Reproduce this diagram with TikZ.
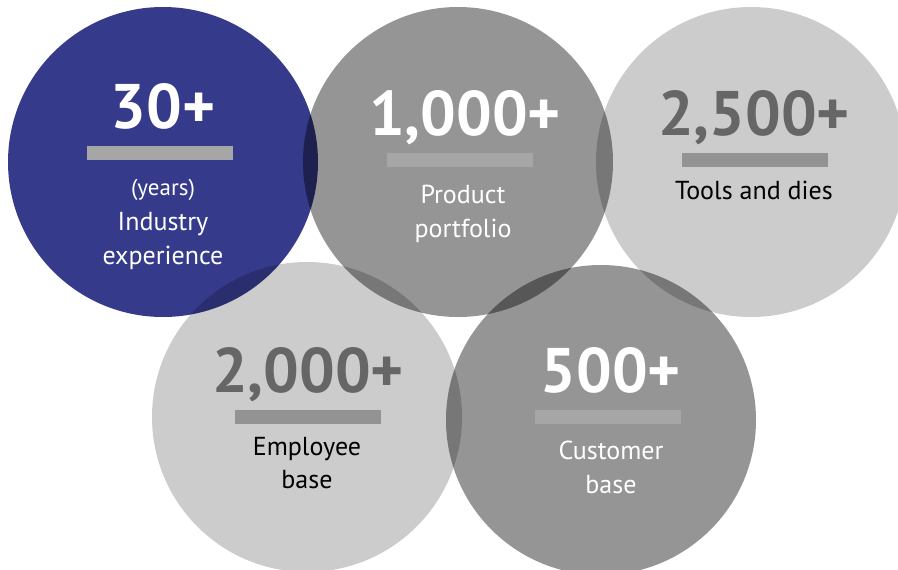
\documentclass[tikz,border=0pt]{standalone}
\usepackage{fontspec}
\setmainfont{PT Sans}
\definecolor{discblue}{RGB}{53,58,138}
\definecolor{discmid}{RGB}{149,149,149}
\definecolor{disclight}{RGB}{204,204,204}
\definecolor{barpale}{RGB}{166,166,166}
\definecolor{bardeep}{RGB}{147,147,147}
\definecolor{figgray}{RGB}{102,102,102}
\tikzset{
  bignum/.style={anchor=base, font=\fontsize{63}{63}\bfseries\selectfont},
  caption/.style={anchor=base, font=\fontsize{26}{26}\selectfont},
}
\begin{document}
\begin{tikzpicture}[x=1pt, y=-1pt]
      \useasboundingbox (0,0) rectangle (898,570);

      \begin{scope}[blend group=multiply]
        \fill[discblue] (163,162) circle[radius = 155];
        \fill[discmid] (458,162) circle[radius = 155];
        \fill[disclight] (751,162) circle[radius = 155];
        \fill[disclight] (307,417) circle[radius = 155];
        \fill[discmid] (601,420) circle[radius = 155];
      \end{scope}

      \fill[barpale] (87,146) rectangle (233,160);
      \fill[barpale] (387,153) rectangle (533,167);
      \fill[bardeep] (682,153) rectangle (828,167);
      \fill[bardeep] (235,410) rectangle (381,424);
      \fill[barpale] (535,410) rectangle (681,424);

      \node[bignum, white] (years) at (163,128) {30+};
      \node[caption, white, font=\fontsize{23}{23}\selectfont] (yearsunit) at (163,195) {(years)};
      \node[caption, white] (yearsa) at (163,230) {Industry};
      \node[caption, white] (yearsb) at (163,264) {experience};

      \node[bignum, white] (products) at (465,135) {1,000+};
      \node[caption, white] (productsa) at (463,203) {Product};
      \node[caption, white] (productsb) at (463,237) {portfolio};

      \node[bignum, figgray] (tools) at (754,135) {2,500+};
      \node[caption, black] (toolsa) at (754,199) {Tools and dies};

      \node[bignum, figgray] (staff) at (308,392) {2,000+};
      \node[caption, black] (staffa) at (307,455) {Employee};
      \node[caption, black] (staffb) at (307,488) {base};

      \node[bignum, white] (clients) at (611,392) {500+};
      \node[caption, white] (clientsa) at (611,459) {Customer};
      \node[caption, white] (clientsb) at (611,493) {base};

    \end{tikzpicture}
\end{document}
